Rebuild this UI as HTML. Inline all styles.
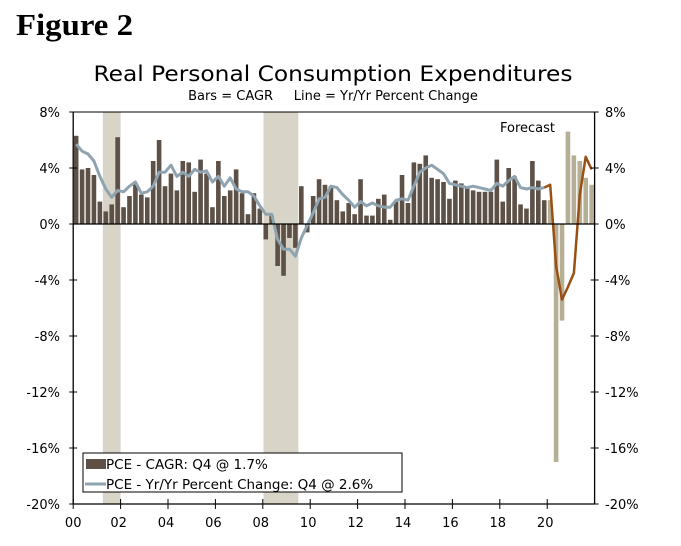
<!DOCTYPE html>
<html><head><meta charset="utf-8"><style>
body{margin:0;background:#fff;width:681px;height:546px;overflow:hidden}
svg{display:block;font-family:"DejaVu Sans","Liberation Sans",sans-serif}
</style></head><body>
<svg id="chart" width="681" height="546" viewBox="0 0 681 546" xmlns="http://www.w3.org/2000/svg">
<text x="16" y="35" font-family="Liberation Serif,serif" font-weight="bold" font-size="31" fill="#000" textLength="117" lengthAdjust="spacingAndGlyphs">Figure 2</text>
<text x="333" y="81" text-anchor="middle" font-size="21" fill="#000" textLength="479" lengthAdjust="spacingAndGlyphs">Real Personal Consumption Expenditures</text>
<text x="333" y="100" text-anchor="middle" font-size="13" fill="#000" style="white-space:pre" xml:space="preserve">Bars = CAGR     Line = Yr/Yr Percent Change</text>
<g id="shade"></g><g id="bars"></g><g id="lines"></g><g id="axes"></g>
<text x="500" y="132" font-size="13" fill="#000">Forecast</text>
<g>
<rect x="83" y="453" width="319" height="39" fill="#fff" stroke="#000" stroke-width="1"/>
<rect x="86" y="459" width="20" height="10" fill="#5c5047"/>
<text x="106" y="469" font-size="13.5" fill="#000">PCE - CAGR: Q4 @ 1.7%</text>
<line x1="85" y1="484" x2="106" y2="484" stroke="#8fa3b0" stroke-width="3"/>
<text x="106" y="489" font-size="13.5" fill="#000">PCE - Yr/Yr Percent Change: Q4 @ 2.6%</text>
</g>
</svg>
<script>
const cagr=[6.3,3.9,4.0,3.5, 1.6,0.9,1.4,6.2, 1.2,2.0,2.9,2.1, 1.9,4.5,6.0,2.7, 3.6,2.4,4.5,4.4, 2.3,4.6,3.6,1.2, 4.5,2.0,2.4,3.9, 2.2,0.7,2.2,1.1,
 -1.1,0.6,-3.0,-3.7, -1.0,-1.7,2.7,-0.6, 2.0,3.2,2.8,2.7, 1.7,0.9,1.5,0.7, 3.2,0.6,0.6,1.8, 2.1,0.3,1.6,3.5, 1.5,4.4,4.3,4.9, 3.3,3.2,3.0,1.8,
 3.1,2.9,2.7,2.4, 2.3,2.3,2.3,4.6, 1.6,4.0,3.4,1.4, 1.1,4.5,3.1,1.7, 1.7,-17.0,-6.9,6.6, 4.9,4.5,3.3,2.8];
const forecastStart=80;
const yoy=[5.7,5.2,5.0,4.5, 3.4,2.5,1.9,2.4, 2.3,2.7,3.0,2.2, 2.3,2.7,3.7,3.7, 4.2,3.4,3.7,3.4, 3.9,3.7,3.8,3.0, 3.4,2.7,3.3,2.5, 2.3,2.3,2.0,1.3,
 0.7,0.7,-1.1,-1.8, -1.8,-2.3,-1.0,-0.1, 0.8,1.8,1.9,2.7, 2.6,2.1,1.7,1.2, 1.6,1.3,1.5,1.3, 1.2,1.2,1.7,1.8, 1.7,2.7,3.7,4.0, 4.2,3.9,3.6,2.9,
 2.8,2.7,2.6,2.7, 2.6,2.5,2.4,2.9, 2.7,3.1,3.4,2.6, 2.5,2.6,2.5,2.6];
const yoyForecast=[2.6,2.8,-3.0,-5.4,-4.5,-3.5,2.1,4.8,3.9];
const yTicks=[8,4,0,-4,-8,-12,-16,-20];
const xLabels=["00","02","04","06","08","10","12","14","16","18","20"];
const recessions=[[2001.25,2002.0],[2008.03,2009.5]];
const NS="http://www.w3.org/2000/svg";
const X0=73.2,X1=594.6,Y0=112,Y1=504;
const xYear=y=>X0+(y-2000)*(X1-X0)/22;
const xQ=i=>xYear(2000+(i+0.5)/4);
const yV=v=>Y0+(8-v)*(Y1-Y0)/28;
function mk(t,a,p){const e=document.createElementNS(NS,t);for(const k in a)e.setAttribute(k,a[k]);p.appendChild(e);return e;}
const gS=document.getElementById('shade'),gB=document.getElementById('bars'),gL=document.getElementById('lines'),gA=document.getElementById('axes');
recessions.forEach(r=>{const e=mk('rect',{x:xYear(r[0]),y:Y0,width:xYear(r[1])-xYear(r[0]),height:Y1-Y0,fill:'#d8d4c8'},gS);

});
cagr.forEach((v,i)=>{const y=Math.min(yV(v),yV(0));const e=mk('rect',{x:xQ(i)-2.3,y:y,width:4.6,height:Math.abs(yV(v)-yV(0)),fill:i>=forecastStart?'#b4af95':'#5c5047'},gB);

});
mk('line',{x1:X0,y1:yV(0),x2:X1,y2:yV(0),stroke:'#000','stroke-width':1.3},gA);
let p1=yoy.map((v,i)=>xQ(i).toFixed(1)+','+yV(v).toFixed(1)).join(' ');
const l1=mk('polyline',{points:p1,fill:'none',stroke:'#8fa3b0','stroke-width':3,'stroke-linejoin':'round'},gL);


let p2=yoyForecast.map((v,i)=>xQ(i+79).toFixed(1)+','+yV(v).toFixed(1)).join(' ');
const l2=mk('polyline',{points:p2,fill:'none',stroke:'#9a4f13','stroke-width':2.5,'stroke-linejoin':'round'},gL);


mk('line',{x1:X0,y1:Y0,x2:X1,y2:Y0,stroke:'#000','stroke-width':1},gA);
mk('line',{x1:X0,y1:Y1,x2:X1,y2:Y1,stroke:'#000','stroke-width':1.3},gA);
mk('line',{x1:X0,y1:Y0,x2:X0,y2:Y1,stroke:'#000','stroke-width':1.3},gA);
mk('line',{x1:X1,y1:Y0,x2:X1,y2:Y1,stroke:'#000','stroke-width':1.3},gA);
yTicks.forEach(v=>{const y=yV(v);
mk('line',{x1:X0-4,y1:y,x2:X0+4,y2:y,stroke:'#000'},gA);
mk('line',{x1:X1-4,y1:y,x2:X1+4,y2:y,stroke:'#000'},gA);
const t1=mk('text',{x:60,y:y+5,'text-anchor':'end','font-size':13,fill:'#000'},gA);t1.textContent=v+'%';


const t2=mk('text',{x:605,y:y+5,'font-size':13,fill:'#000'},gA);t2.textContent=v+'%';

});
xLabels.forEach((s,i)=>{const x=xYear(2000+2*i);
mk('line',{x1:x,y1:Y1-5,x2:x,y2:Y1+5,stroke:'#000'},gA);
const t=mk('text',{x:x+(i==0?0:-2),y:527,'text-anchor':'middle','font-size':13,fill:'#000'},gA);t.textContent=s;

});
</script>
</body></html>
